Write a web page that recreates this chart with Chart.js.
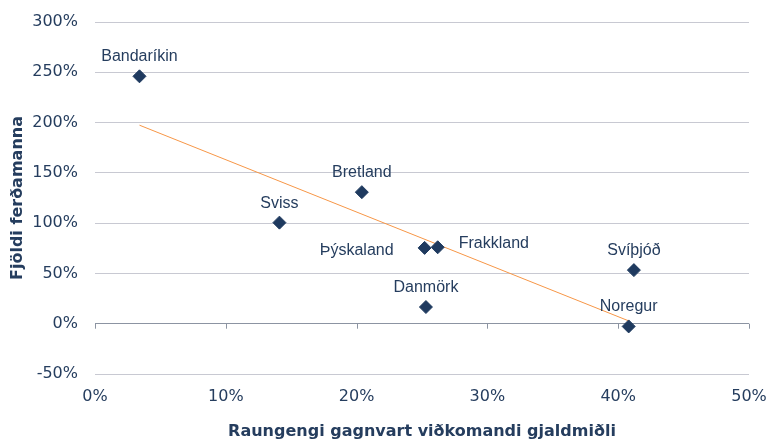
<!DOCTYPE html>
<html>
<head>
<meta charset="utf-8">
<script src="https://cdn.jsdelivr.net/npm/chart.js@4/dist/chart.umd.min.js"></script>
<style>
  html, body { margin: 0; padding: 0; background: #ffffff; }
  #wrap { width: 771px; height: 443px; }
</style>
</head>
<body>
<div id="wrap"><canvas id="c" width="771" height="443"></canvas></div>
<script>
// ---- Data ----
const countries = ['Bandaríkin', 'Sviss', 'Bretland', 'Þýskaland', 'Frakkland', 'Danmörk', 'Svíþjóð', 'Noregur'];
const realExchangeRate = [3.4, 14.1, 20.4, 25.2, 26.2, 25.3, 41.2, 40.8];     // x, %
const touristGrowth = [246, 100.5, 130.8, 75.4, 76, 16.6, 53.3, -2.7];       // y, %
const trendX = [3.4, 40.9];
const trendY = [197.4, 2.3];
const xTicks = [0, 10, 20, 30, 40, 50];
const yTicks = [-50, 0, 50, 100, 150, 200, 250, 300];
const xTitle = 'Raungengi gagnvart viðkomandi gjaldmiðli';
const yTitle = 'Fjöldi ferðamanna';

// ---- Styling (kept separate from data) ----
const labelPlacement = ['above', 'above', 'above', 'left', 'right', 'above', 'above', 'above'];
const navy = '#1F3A5F';
const textNavy = '#253D5E';
const orange = '#F79646';

const pointData = countries.map((c, i) => ({ x: realExchangeRate[i], y: touristGrowth[i] }));
const trendData = trendX.map((x, i) => ({ x: x, y: trendY[i] }));

const pointLabels = {
  id: 'pointLabels',
  afterDatasetsDraw(chart) {
    const meta = chart.getDatasetMeta(0);
    const ctx = chart.ctx;
    ctx.save();
    ctx.font = '16px "Liberation Sans", Arial, sans-serif';
    ctx.fillStyle = textNavy;
    ctx.textBaseline = 'alphabetic';
    meta.data.forEach((el, i) => {
      const p = labelPlacement[i];
      let x = el.x, y = el.y;
      if (p === 'above') { ctx.textAlign = 'center'; y -= 15; }
      else if (p === 'left') { ctx.textAlign = 'right'; x -= 31; y += 7; }
      else { ctx.textAlign = 'left'; x += 21; y += 1; }
      ctx.fillText(countries[i], x, y);
    });
    ctx.restore();
  }
};

const zeroAxisTicks = {
  id: 'zeroAxisTicks',
  beforeDatasetsDraw(chart) {
    const xs = chart.scales.x, ys = chart.scales.y;
    const y0 = ys.getPixelForValue(0);
    const ctx = chart.ctx;
    ctx.save();
    ctx.strokeStyle = '#8C94A2';
    ctx.lineWidth = 1;
    ctx.beginPath();
    xTicks.forEach(v => {
      const px = Math.round(xs.getPixelForValue(v)) + 0.5;
      ctx.moveTo(px, y0);
      ctx.lineTo(px, y0 + 5);
    });
    ctx.stroke();
    ctx.restore();
  }
};

function clearScalePadding(scale) {
  scale.paddingTop = 0;
  scale.paddingBottom = 0;
  scale.paddingLeft = 0;
  scale.paddingRight = 0;
}

new Chart(document.getElementById('c'), {
  type: 'scatter',
  data: {
    datasets: [
      {
        label: 'Lönd',
        data: pointData,
        pointStyle: 'rectRot',
        pointRadius: 6.5,
        pointHoverRadius: 6.5,
        backgroundColor: navy,
        borderColor: navy,
        borderWidth: 1,
        order: 0
      },
      {
        type: 'line',
        label: 'Leitni',
        data: trendData,
        showLine: true,
        borderColor: orange,
        borderWidth: 1,
        pointRadius: 0,
        fill: false,
        order: 1
      }
    ]
  },
  options: {
    responsive: false,
    devicePixelRatio: 1,
    animation: false,
    layout: { padding: { top: 22, right: 22, left: 0, bottom: 0 } },
    plugins: {
      legend: { display: false },
      tooltip: { enabled: false }
    },
    scales: {
      x: {
        type: 'linear',
        min: 0,
        max: 50,
        afterFit(scale) { scale.height = 69; clearScalePadding(scale); },
        afterBuildTicks(scale) { scale.ticks = xTicks.map(v => ({ value: v })); },
        grid: { display: false, drawTicks: false },
        border: { display: false },
        ticks: {
          padding: 13,
          color: textNavy,
          font: { family: '"DejaVu Sans", sans-serif', size: 16 },
          callback: v => v + '%'
        },
        title: {
          display: true,
          text: xTitle,
          color: textNavy,
          font: { family: '"DejaVu Sans", sans-serif', size: 16, weight: 'bold' },
          padding: { top: 0, bottom: 2 }
        }
      },
      y: {
        type: 'linear',
        min: -50,
        max: 300,
        afterFit(scale) { scale.width = 95; clearScalePadding(scale); },
        afterBuildTicks(scale) { scale.ticks = yTicks.map(v => ({ value: v })); },
        grid: {
          drawTicks: false,
          color: ctx => (ctx.tick && ctx.tick.value === 0) ? '#8C94A2' : '#C8C9D2',
          lineWidth: 1
        },
        border: { display: false },
        ticks: {
          padding: 17,
          color: textNavy,
          font: { family: '"DejaVu Sans", sans-serif', size: 16 },
          callback: v => v + '%'
        },
        title: {
          display: true,
          text: yTitle,
          color: textNavy,
          font: { family: '"DejaVu Sans", sans-serif', size: 16, weight: 'bold' },
          padding: { top: 8, bottom: 0 }
        }
      }
    }
  },
  plugins: [zeroAxisTicks, pointLabels]
});
</script>
</body>
</html>
